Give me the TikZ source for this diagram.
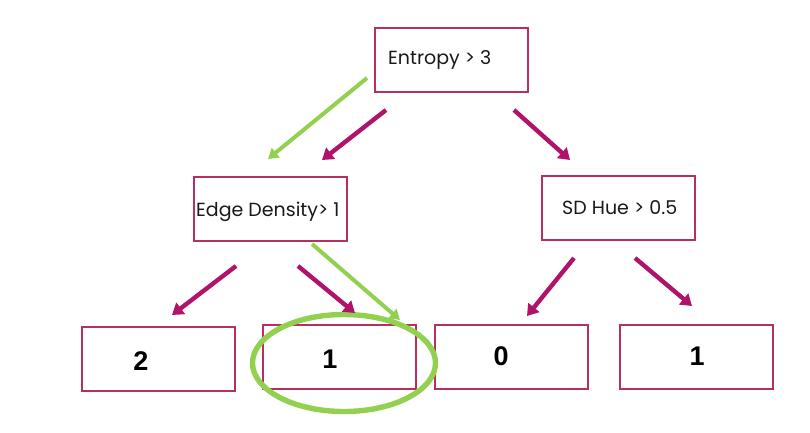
\documentclass[tikz,border=0pt]{standalone}
\usepackage{fontspec}
\setmainfont{Poppins}
\newfontfamily\digitfont{Liberation Sans}
\usetikzlibrary{arrows.meta,shapes.geometric}
\definecolor{boxred}{RGB}{183,47,95}
\definecolor{arrmag}{RGB}{176,20,106}
\definecolor{hlgreen}{RGB}{146,208,80}
\tikzset{
  treebox/.style={draw=boxred, line width=2pt, minimum width=153pt, minimum height=64pt, inner sep=0pt},
  lbl/.style={font=\fontsize{19}{22}\selectfont, text=black!90, inner sep=0pt},
  num/.style={font=\digitfont\bfseries\fontsize{27}{30}\selectfont},
  magarrow/.style={draw=arrmag, line width=4.4pt, -{Triangle[length=11pt,width=14pt]}},
  grnarrow/.style={draw=hlgreen, line width=4pt, -{Triangle[length=10pt,width=12pt]}},
}
\begin{document}
\begin{tikzpicture}[x=1pt,y=-1pt]
\useasboundingbox (0,0) rectangle (810,432);
% boxes
\node[treebox] (root) at (451.5,59.5) {};
\node[treebox] (edge) at (270,209) {};
\node[treebox] (sd) at (618.5,207.5) {};
\node[treebox] (l2) at (158.5,359) {};
\node[treebox] (l1a) at (339.5,357) {};
\node[treebox] (l0) at (511.5,357) {};
\node[treebox] (l1b) at (696,357) {};
% labels
\node[lbl, anchor=west] (troot) at (388,60) {Entropy > 3};
\node[lbl, anchor=west] (tedge) at (196,212) {Edge Density> 1};
\node[lbl, anchor=west] (tsd) at (562,208) {SD Hue > 0.5};
\node[num] (n2) at (141,361) {2};
\node[num] (n1a) at (330,359) {1};
\node[num] (n0) at (501,356) {0};
\node[num] (n1b) at (697,356) {1};
% highlight ellipse
\node[draw=hlgreen, line width=5.4pt, ellipse, minimum width=183pt, minimum height=97pt, inner sep=0pt] (hl) at (344,363) {};
% arrow end points
\coordinate (a1s) at (386,110); \coordinate (a1e) at (322,160);
\coordinate (a2s) at (514,110); \coordinate (a2e) at (570,160);
\coordinate (a3s) at (236,266); \coordinate (a3e) at (172,315);
\coordinate (a4s) at (298,266); \coordinate (a4e) at (355,313);
\coordinate (a5s) at (574,258); \coordinate (a5e) at (527,316);
\coordinate (a6s) at (635,258); \coordinate (a6e) at (692,306);
\coordinate (g1s) at (367,78); \coordinate (g1e) at (268,159);
\coordinate (g2s) at (312,244); \coordinate (g2e) at (400,320);
\draw[magarrow] (a1s) -- (a1e);
\draw[magarrow] (a2s) -- (a2e);
\draw[magarrow] (a3s) -- (a3e);
\draw[magarrow] (a4s) -- (a4e);
\draw[magarrow] (a5s) -- (a5e);
\draw[magarrow] (a6s) -- (a6e);
\draw[grnarrow] (g1s) -- (g1e);
\draw[grnarrow] (g2s) -- (g2e);
\end{tikzpicture}
\end{document}
